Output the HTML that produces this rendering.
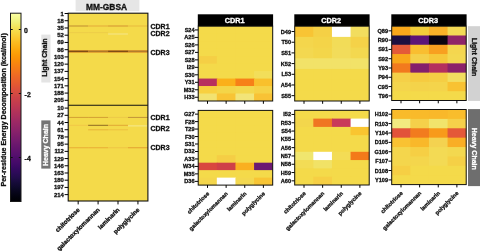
<!DOCTYPE html>
<html><head><meta charset="utf-8"><style>
html,body{margin:0;padding:0;background:#fff;width:480px;height:251px;overflow:hidden}
svg{display:block;font-family:'Liberation Sans', sans-serif;font-weight:bold;filter:blur(0.3px)}
text{stroke:currentColor;stroke-width:0.3px}
</style></head><body>
<svg width="480" height="251" viewBox="0 0 480 251">
<defs><linearGradient id="cb" x1="0" y1="0" x2="0" y2="1"><stop offset="0.000" stop-color="#fcffa4"/><stop offset="0.025" stop-color="#f4f88e"/><stop offset="0.050" stop-color="#f1ef75"/><stop offset="0.075" stop-color="#f3e35a"/><stop offset="0.100" stop-color="#f6d746"/><stop offset="0.125" stop-color="#f9cb35"/><stop offset="0.150" stop-color="#fbbe23"/><stop offset="0.175" stop-color="#fcb216"/><stop offset="0.200" stop-color="#fca50a"/><stop offset="0.225" stop-color="#fb9906"/><stop offset="0.250" stop-color="#f98e09"/><stop offset="0.275" stop-color="#f78212"/><stop offset="0.300" stop-color="#f37819"/><stop offset="0.325" stop-color="#ef6c23"/><stop offset="0.350" stop-color="#ea632a"/><stop offset="0.375" stop-color="#e45a31"/><stop offset="0.400" stop-color="#dd513a"/><stop offset="0.425" stop-color="#d54a41"/><stop offset="0.450" stop-color="#cc4248"/><stop offset="0.475" stop-color="#c43c4e"/><stop offset="0.500" stop-color="#bc3754"/><stop offset="0.525" stop-color="#b1325a"/><stop offset="0.550" stop-color="#a82e5f"/><stop offset="0.575" stop-color="#9d2964"/><stop offset="0.600" stop-color="#932667"/><stop offset="0.625" stop-color="#8a226a"/><stop offset="0.650" stop-color="#7f1e6c"/><stop offset="0.675" stop-color="#751b6e"/><stop offset="0.700" stop-color="#6a176e"/><stop offset="0.725" stop-color="#61136e"/><stop offset="0.750" stop-color="#57106e"/><stop offset="0.775" stop-color="#4c0c6b"/><stop offset="0.800" stop-color="#420a68"/><stop offset="0.825" stop-color="#360961"/><stop offset="0.850" stop-color="#2b0b57"/><stop offset="0.875" stop-color="#210c4a"/><stop offset="0.900" stop-color="#160b39"/><stop offset="0.925" stop-color="#0e092b"/><stop offset="0.950" stop-color="#07051b"/><stop offset="0.975" stop-color="#02020e"/><stop offset="1.000" stop-color="#000004"/></linearGradient></defs>
<rect x="10.5" y="13.2" width="10.5" height="188.3" fill="url(#cb)" stroke="#1a1a1a" stroke-width="1"/>
<line x1="10.5" y1="29.5" x2="12.7" y2="29.5" stroke="#111" stroke-width="1"/>
<line x1="18.8" y1="29.5" x2="21" y2="29.5" stroke="#111" stroke-width="1"/>
<text x="24.0" y="30.0" font-size="6.9" text-anchor="start" fill="#111" color="#111" dominant-baseline="central">0</text>
<line x1="10.5" y1="93.5" x2="12.7" y2="93.5" stroke="#111" stroke-width="1"/>
<line x1="18.8" y1="93.5" x2="21" y2="93.5" stroke="#111" stroke-width="1"/>
<text x="24.6" y="94.0" font-size="6.9" text-anchor="start" fill="#111" color="#111" dominant-baseline="central">-2</text>
<line x1="10.5" y1="157.5" x2="12.7" y2="157.5" stroke="#111" stroke-width="1"/>
<line x1="18.8" y1="157.5" x2="21" y2="157.5" stroke="#111" stroke-width="1"/>
<text x="24.6" y="158.0" font-size="6.9" text-anchor="start" fill="#111" color="#111" dominant-baseline="central">-4</text>
<text x="4.2" y="109.8" font-size="7.1" text-anchor="middle" fill="#111" color="#111" dominant-baseline="central" transform="rotate(-90 4.2 109.8)">Per-residue Energy Decomposition (kcal/mol)</text>
<rect x="41.3" y="34.6" width="9.2" height="47.9" fill="#E4E4E4"/>
<text x="45.0" y="57.6" font-size="7" text-anchor="middle" fill="#111" color="#111" dominant-baseline="central" transform="rotate(-90 45.0 57.6)">Light Chain</text>
<rect x="41.3" y="120.4" width="9.2" height="48.2" fill="#747474"/>
<text x="45.5" y="145.0" font-size="7" text-anchor="middle" fill="#fff" color="#fff" dominant-baseline="central" transform="rotate(-90 45.5 145.0)">Heavy Chain</text>
<rect x="75.6" y="0" width="63.8" height="11.2" fill="#E6E6E6"/>
<text x="106.6" y="6.6" font-size="8.4" text-anchor="middle" fill="#111" color="#111" dominant-baseline="central">MM-GBSA</text>
<rect x="68.2" y="13.2" width="79.7" height="187.8" fill="#F4DA4A"/>
<rect x="68.20" y="25.4" width="19.93" height="1.2" fill="#C99A35"/>
<rect x="88.12" y="25.4" width="19.93" height="1.2" fill="#E6B43C"/>
<rect x="108.05" y="25.4" width="19.93" height="1.2" fill="#D9A035"/>
<rect x="127.98" y="25.4" width="19.93" height="1.2" fill="#EAC040"/>
<rect x="108.05" y="33.5" width="19.93" height="1.0" fill="#F4E68A"/>
<rect x="68.20" y="32.3" width="19.93" height="0.8" fill="#EBCB48"/>
<rect x="88.12" y="32.3" width="19.93" height="0.8" fill="#EBCB48"/>
<rect x="68.20" y="50.0" width="19.93" height="2.9" fill="#E9A632"/>
<rect x="88.12" y="50.0" width="19.93" height="2.9" fill="#E9A632"/>
<rect x="108.05" y="50.0" width="19.93" height="2.9" fill="#E9A632"/>
<rect x="127.98" y="50.0" width="19.93" height="2.9" fill="#E9A632"/>
<rect x="68.20" y="50.6" width="19.93" height="1.5" fill="#7E4C16"/>
<rect x="88.12" y="50.6" width="19.93" height="1.5" fill="#AE7828"/>
<rect x="108.05" y="50.6" width="19.93" height="1.5" fill="#7E4C16"/>
<rect x="127.98" y="50.6" width="19.93" height="1.5" fill="#B27C2C"/>
<rect x="68.20" y="116.9" width="19.93" height="1.1" fill="#D6A535"/>
<rect x="88.12" y="116.9" width="19.93" height="1.1" fill="#D6A535"/>
<rect x="108.05" y="116.9" width="19.93" height="1.1" fill="#EDCB48"/>
<rect x="127.98" y="116.9" width="19.93" height="1.1" fill="#C69A3A"/>
<rect x="68.20" y="124.8" width="19.93" height="1.0" fill="#F2C848"/>
<rect x="88.12" y="124.8" width="19.93" height="1.0" fill="#8F6A22"/>
<rect x="108.05" y="124.8" width="19.93" height="1.0" fill="#E2A835"/>
<rect x="127.98" y="125.4" width="19.93" height="1.0" fill="#F6EA90"/>
<rect x="88.12" y="129.3" width="19.93" height="1.0" fill="#E8B438"/>
<rect x="108.05" y="129.3" width="19.93" height="1.0" fill="#EDC040"/>
<rect x="68.20" y="147.1" width="19.93" height="1.2" fill="#EBB438"/>
<rect x="88.12" y="147.1" width="19.93" height="1.2" fill="#EBB438"/>
<rect x="108.05" y="147.1" width="19.93" height="1.2" fill="#F0C845"/>
<rect x="127.98" y="147.1" width="19.93" height="1.2" fill="#E6AA35"/>
<rect x="68.2" y="13.2" width="79.7" height="187.8" fill="none" stroke="#111" stroke-width="1.1"/>
<line x1="68.2" y1="105.3" x2="147.9" y2="105.3" stroke="#111" stroke-width="1.1"/>
<line x1="64.6" y1="13.50" x2="68.2" y2="13.50" stroke="#000" stroke-width="1"/>
<text x="63.9" y="13.5" font-size="5.9" text-anchor="end" fill="#111" color="#111" dominant-baseline="central">1</text>
<line x1="64.6" y1="20.73" x2="68.2" y2="20.73" stroke="#000" stroke-width="1"/>
<text x="63.9" y="20.735" font-size="5.9" text-anchor="end" fill="#111" color="#111" dominant-baseline="central">18</text>
<line x1="64.6" y1="27.97" x2="68.2" y2="27.97" stroke="#000" stroke-width="1"/>
<text x="63.9" y="27.97" font-size="5.9" text-anchor="end" fill="#111" color="#111" dominant-baseline="central">35</text>
<line x1="64.6" y1="35.20" x2="68.2" y2="35.20" stroke="#000" stroke-width="1"/>
<text x="63.9" y="35.205" font-size="5.9" text-anchor="end" fill="#111" color="#111" dominant-baseline="central">52</text>
<line x1="64.6" y1="42.44" x2="68.2" y2="42.44" stroke="#000" stroke-width="1"/>
<text x="63.9" y="42.44" font-size="5.9" text-anchor="end" fill="#111" color="#111" dominant-baseline="central">69</text>
<line x1="64.6" y1="49.68" x2="68.2" y2="49.68" stroke="#000" stroke-width="1"/>
<text x="63.9" y="49.675000000000004" font-size="5.9" text-anchor="end" fill="#111" color="#111" dominant-baseline="central">86</text>
<line x1="64.6" y1="56.91" x2="68.2" y2="56.91" stroke="#000" stroke-width="1"/>
<text x="63.9" y="56.910000000000004" font-size="5.9" text-anchor="end" fill="#111" color="#111" dominant-baseline="central">103</text>
<line x1="64.6" y1="64.15" x2="68.2" y2="64.15" stroke="#000" stroke-width="1"/>
<text x="63.9" y="64.14500000000001" font-size="5.9" text-anchor="end" fill="#111" color="#111" dominant-baseline="central">120</text>
<line x1="64.6" y1="71.38" x2="68.2" y2="71.38" stroke="#000" stroke-width="1"/>
<text x="63.9" y="71.38" font-size="5.9" text-anchor="end" fill="#111" color="#111" dominant-baseline="central">137</text>
<line x1="64.6" y1="78.62" x2="68.2" y2="78.62" stroke="#000" stroke-width="1"/>
<text x="63.9" y="78.61500000000001" font-size="5.9" text-anchor="end" fill="#111" color="#111" dominant-baseline="central">154</text>
<line x1="64.6" y1="85.85" x2="68.2" y2="85.85" stroke="#000" stroke-width="1"/>
<text x="63.9" y="85.85000000000001" font-size="5.9" text-anchor="end" fill="#111" color="#111" dominant-baseline="central">171</text>
<line x1="64.6" y1="93.09" x2="68.2" y2="93.09" stroke="#000" stroke-width="1"/>
<text x="63.9" y="93.08500000000001" font-size="5.9" text-anchor="end" fill="#111" color="#111" dominant-baseline="central">188</text>
<line x1="64.6" y1="100.32" x2="68.2" y2="100.32" stroke="#000" stroke-width="1"/>
<text x="63.9" y="100.32000000000001" font-size="5.9" text-anchor="end" fill="#111" color="#111" dominant-baseline="central">205</text>
<line x1="64.6" y1="108.10" x2="68.2" y2="108.10" stroke="#000" stroke-width="1"/>
<text x="63.9" y="108.1" font-size="5.9" text-anchor="end" fill="#111" color="#111" dominant-baseline="central">10</text>
<line x1="64.6" y1="115.31" x2="68.2" y2="115.31" stroke="#000" stroke-width="1"/>
<text x="63.9" y="115.30999999999999" font-size="5.9" text-anchor="end" fill="#111" color="#111" dominant-baseline="central">27</text>
<line x1="64.6" y1="122.52" x2="68.2" y2="122.52" stroke="#000" stroke-width="1"/>
<text x="63.9" y="122.52" font-size="5.9" text-anchor="end" fill="#111" color="#111" dominant-baseline="central">44</text>
<line x1="64.6" y1="129.73" x2="68.2" y2="129.73" stroke="#000" stroke-width="1"/>
<text x="63.9" y="129.73" font-size="5.9" text-anchor="end" fill="#111" color="#111" dominant-baseline="central">61</text>
<line x1="64.6" y1="136.94" x2="68.2" y2="136.94" stroke="#000" stroke-width="1"/>
<text x="63.9" y="136.94" font-size="5.9" text-anchor="end" fill="#111" color="#111" dominant-baseline="central">78</text>
<line x1="64.6" y1="144.15" x2="68.2" y2="144.15" stroke="#000" stroke-width="1"/>
<text x="63.9" y="144.14999999999998" font-size="5.9" text-anchor="end" fill="#111" color="#111" dominant-baseline="central">95</text>
<line x1="64.6" y1="151.36" x2="68.2" y2="151.36" stroke="#000" stroke-width="1"/>
<text x="63.9" y="151.35999999999999" font-size="5.9" text-anchor="end" fill="#111" color="#111" dominant-baseline="central">112</text>
<line x1="64.6" y1="158.57" x2="68.2" y2="158.57" stroke="#000" stroke-width="1"/>
<text x="63.9" y="158.57" font-size="5.9" text-anchor="end" fill="#111" color="#111" dominant-baseline="central">129</text>
<line x1="64.6" y1="165.78" x2="68.2" y2="165.78" stroke="#000" stroke-width="1"/>
<text x="63.9" y="165.78" font-size="5.9" text-anchor="end" fill="#111" color="#111" dominant-baseline="central">146</text>
<line x1="64.6" y1="172.99" x2="68.2" y2="172.99" stroke="#000" stroke-width="1"/>
<text x="63.9" y="172.99" font-size="5.9" text-anchor="end" fill="#111" color="#111" dominant-baseline="central">163</text>
<line x1="64.6" y1="180.20" x2="68.2" y2="180.20" stroke="#000" stroke-width="1"/>
<text x="63.9" y="180.2" font-size="5.9" text-anchor="end" fill="#111" color="#111" dominant-baseline="central">180</text>
<line x1="64.6" y1="187.41" x2="68.2" y2="187.41" stroke="#000" stroke-width="1"/>
<text x="63.9" y="187.41" font-size="5.9" text-anchor="end" fill="#111" color="#111" dominant-baseline="central">197</text>
<line x1="64.6" y1="194.62" x2="68.2" y2="194.62" stroke="#000" stroke-width="1"/>
<text x="63.9" y="194.62" font-size="5.9" text-anchor="end" fill="#111" color="#111" dominant-baseline="central">214</text>
<text x="150.5" y="26.2" font-size="7" text-anchor="start" fill="#111" color="#111" dominant-baseline="central">CDR1</text>
<text x="150.5" y="33.9" font-size="7" text-anchor="start" fill="#111" color="#111" dominant-baseline="central">CDR2</text>
<text x="150.5" y="52.0" font-size="7" text-anchor="start" fill="#111" color="#111" dominant-baseline="central">CDR3</text>
<text x="150.5" y="117.8" font-size="7" text-anchor="start" fill="#111" color="#111" dominant-baseline="central">CDR1</text>
<text x="150.5" y="128.1" font-size="7" text-anchor="start" fill="#111" color="#111" dominant-baseline="central">CDR2</text>
<text x="150.5" y="147.5" font-size="7" text-anchor="start" fill="#111" color="#111" dominant-baseline="central">CDR3</text>
<line x1="78.16250000000001" y1="201.0" x2="78.16250000000001" y2="204.4" stroke="#000" stroke-width="1"/>
<text x="80.16250000000001" y="210.2" font-size="6.2" text-anchor="end" fill="#111" color="#111" transform="rotate(-45 80.16250000000001 210.2)">chitotriose</text>
<line x1="98.0875" y1="201.0" x2="98.0875" y2="204.4" stroke="#000" stroke-width="1"/>
<text x="100.0875" y="210.2" font-size="6.2" text-anchor="end" fill="#111" color="#111" transform="rotate(-45 100.0875 210.2)">galactoxylomannan</text>
<line x1="118.0125" y1="201.0" x2="118.0125" y2="204.4" stroke="#000" stroke-width="1"/>
<text x="120.0125" y="210.2" font-size="6.2" text-anchor="end" fill="#111" color="#111" transform="rotate(-45 120.0125 210.2)">laminarin</text>
<line x1="137.9375" y1="201.0" x2="137.9375" y2="204.4" stroke="#000" stroke-width="1"/>
<text x="139.9375" y="210.2" font-size="6.2" text-anchor="end" fill="#111" color="#111" transform="rotate(-45 139.9375 210.2)">polyglycine</text>
<rect x="197.79999999999998" y="14.3" width="75.3" height="11.899999999999999" fill="#000"/>
<text x="234.64999999999998" y="20.8" font-size="7.3" text-anchor="middle" fill="#fff" color="#fff" dominant-baseline="central">CDR1</text>
<rect x="198.2" y="26.2" width="74.5" height="74.8" fill="#F4DA4A"/>
<rect x="198.20" y="26.20" width="19.23" height="8.08" fill="#F4DA4A"/>
<rect x="216.82" y="26.20" width="19.23" height="8.08" fill="#F4DA4A"/>
<rect x="235.45" y="26.20" width="19.23" height="8.08" fill="#F4DA4A"/>
<rect x="254.07" y="26.20" width="18.62" height="8.08" fill="#F4DA4A"/>
<line x1="195.0" y1="29.94" x2="198.2" y2="29.94" stroke="#000" stroke-width="1"/>
<text x="194.6" y="29.939999999999998" font-size="5.6" text-anchor="end" fill="#111" color="#111" dominant-baseline="central">S24</text>
<rect x="198.20" y="33.68" width="19.23" height="8.08" fill="#F4DA4A"/>
<rect x="216.82" y="33.68" width="19.23" height="8.08" fill="#F4DA4A"/>
<rect x="235.45" y="33.68" width="19.23" height="8.08" fill="#F4DA4A"/>
<rect x="254.07" y="33.68" width="18.62" height="8.08" fill="#F4DA4A"/>
<line x1="195.0" y1="37.42" x2="198.2" y2="37.42" stroke="#000" stroke-width="1"/>
<text x="194.6" y="37.42" font-size="5.6" text-anchor="end" fill="#111" color="#111" dominant-baseline="central">A25</text>
<rect x="198.20" y="41.16" width="19.23" height="8.08" fill="#F4DA4A"/>
<rect x="216.82" y="41.16" width="19.23" height="8.08" fill="#F4DA4A"/>
<rect x="235.45" y="41.16" width="19.23" height="8.08" fill="#F4DA4A"/>
<rect x="254.07" y="41.16" width="18.62" height="8.08" fill="#F4DA4A"/>
<line x1="195.0" y1="44.90" x2="198.2" y2="44.90" stroke="#000" stroke-width="1"/>
<text x="194.6" y="44.9" font-size="5.6" text-anchor="end" fill="#111" color="#111" dominant-baseline="central">S26</text>
<rect x="198.20" y="48.64" width="19.23" height="8.08" fill="#F4DA4A"/>
<rect x="216.82" y="48.64" width="19.23" height="8.08" fill="#F4DA4A"/>
<rect x="235.45" y="48.64" width="19.23" height="8.08" fill="#F4DA4A"/>
<rect x="254.07" y="48.64" width="18.62" height="8.08" fill="#F4DA4A"/>
<line x1="195.0" y1="52.38" x2="198.2" y2="52.38" stroke="#000" stroke-width="1"/>
<text x="194.6" y="52.379999999999995" font-size="5.6" text-anchor="end" fill="#111" color="#111" dominant-baseline="central">S27</text>
<rect x="198.20" y="56.12" width="19.23" height="8.08" fill="#F5CF45"/>
<rect x="216.82" y="56.12" width="19.23" height="8.08" fill="#F4DA4A"/>
<rect x="235.45" y="56.12" width="19.23" height="8.08" fill="#F4DA4A"/>
<rect x="254.07" y="56.12" width="18.62" height="8.08" fill="#F4DA4A"/>
<line x1="195.0" y1="59.86" x2="198.2" y2="59.86" stroke="#000" stroke-width="1"/>
<text x="194.6" y="59.86" font-size="5.6" text-anchor="end" fill="#111" color="#111" dominant-baseline="central">S28</text>
<rect x="198.20" y="63.60" width="19.23" height="8.08" fill="#F4DA4A"/>
<rect x="216.82" y="63.60" width="19.23" height="8.08" fill="#F4DA4A"/>
<rect x="235.45" y="63.60" width="19.23" height="8.08" fill="#F4DA4A"/>
<rect x="254.07" y="63.60" width="18.62" height="8.08" fill="#F4DA4A"/>
<line x1="195.0" y1="67.34" x2="198.2" y2="67.34" stroke="#000" stroke-width="1"/>
<text x="194.6" y="67.34" font-size="5.6" text-anchor="end" fill="#111" color="#111" dominant-baseline="central">I29</text>
<rect x="198.20" y="71.08" width="19.23" height="8.08" fill="#F4DA4A"/>
<rect x="216.82" y="71.08" width="19.23" height="8.08" fill="#F4DA4A"/>
<rect x="235.45" y="71.08" width="19.23" height="8.08" fill="#F4DA4A"/>
<rect x="254.07" y="71.08" width="18.62" height="8.08" fill="#F2DE5A"/>
<line x1="195.0" y1="74.82" x2="198.2" y2="74.82" stroke="#000" stroke-width="1"/>
<text x="194.6" y="74.82" font-size="5.6" text-anchor="end" fill="#111" color="#111" dominant-baseline="central">S30</text>
<rect x="198.20" y="78.56" width="19.23" height="8.08" fill="#B8305E"/>
<rect x="216.82" y="78.56" width="19.23" height="8.08" fill="#FBB01A"/>
<rect x="235.45" y="78.56" width="19.23" height="8.08" fill="#F78018"/>
<rect x="254.07" y="78.56" width="18.62" height="8.08" fill="#F9C02C"/>
<line x1="195.0" y1="82.30" x2="198.2" y2="82.30" stroke="#000" stroke-width="1"/>
<text x="194.6" y="82.3" font-size="5.6" text-anchor="end" fill="#111" color="#111" dominant-baseline="central">Y31</text>
<rect x="198.20" y="86.04" width="19.23" height="8.08" fill="#F8D040"/>
<rect x="216.82" y="86.04" width="19.23" height="8.08" fill="#F4D548"/>
<rect x="235.45" y="86.04" width="19.23" height="8.08" fill="#F3D84E"/>
<rect x="254.07" y="86.04" width="18.62" height="8.08" fill="#F6D246"/>
<line x1="195.0" y1="89.78" x2="198.2" y2="89.78" stroke="#000" stroke-width="1"/>
<text x="194.6" y="89.78" font-size="5.6" text-anchor="end" fill="#111" color="#111" dominant-baseline="central">M32</text>
<rect x="198.20" y="93.52" width="19.23" height="7.48" fill="#F2E270"/>
<rect x="216.82" y="93.52" width="19.23" height="7.48" fill="#F8C435"/>
<rect x="235.45" y="93.52" width="19.23" height="7.48" fill="#F2E478"/>
<rect x="254.07" y="93.52" width="18.62" height="7.48" fill="#F8C235"/>
<line x1="195.0" y1="97.26" x2="198.2" y2="97.26" stroke="#000" stroke-width="1"/>
<text x="194.6" y="97.26" font-size="5.6" text-anchor="end" fill="#111" color="#111" dominant-baseline="central">H33</text>
<rect x="198.2" y="26.2" width="74.5" height="74.8" fill="none" stroke="#111" stroke-width="1"/>
<line x1="207.51" y1="101.0" x2="207.51" y2="103.8" stroke="#000" stroke-width="1"/>
<line x1="226.14" y1="101.0" x2="226.14" y2="103.8" stroke="#000" stroke-width="1"/>
<line x1="244.76" y1="101.0" x2="244.76" y2="103.8" stroke="#000" stroke-width="1"/>
<line x1="263.39" y1="101.0" x2="263.39" y2="103.8" stroke="#000" stroke-width="1"/>
<rect x="198.2" y="110.4" width="74.5" height="74.69999999999999" fill="#F4DA4A"/>
<rect x="198.20" y="110.40" width="19.23" height="8.07" fill="#F4DA4A"/>
<rect x="216.82" y="110.40" width="19.23" height="8.07" fill="#F4DA4A"/>
<rect x="235.45" y="110.40" width="19.23" height="8.07" fill="#F4DA4A"/>
<rect x="254.07" y="110.40" width="18.62" height="8.07" fill="#F4DA4A"/>
<line x1="195.0" y1="114.14" x2="198.2" y2="114.14" stroke="#000" stroke-width="1"/>
<text x="194.6" y="114.135" font-size="5.6" text-anchor="end" fill="#111" color="#111" dominant-baseline="central">G27</text>
<rect x="198.20" y="117.87" width="19.23" height="8.07" fill="#F4DA4A"/>
<rect x="216.82" y="117.87" width="19.23" height="8.07" fill="#F4DA4A"/>
<rect x="235.45" y="117.87" width="19.23" height="8.07" fill="#F4DA4A"/>
<rect x="254.07" y="117.87" width="18.62" height="8.07" fill="#F4DA4A"/>
<line x1="195.0" y1="121.61" x2="198.2" y2="121.61" stroke="#000" stroke-width="1"/>
<text x="194.6" y="121.605" font-size="5.6" text-anchor="end" fill="#111" color="#111" dominant-baseline="central">F28</text>
<rect x="198.20" y="125.34" width="19.23" height="8.07" fill="#F4DA4A"/>
<rect x="216.82" y="125.34" width="19.23" height="8.07" fill="#F4DA4A"/>
<rect x="235.45" y="125.34" width="19.23" height="8.07" fill="#F4DA4A"/>
<rect x="254.07" y="125.34" width="18.62" height="8.07" fill="#F4DA4A"/>
<line x1="195.0" y1="129.07" x2="198.2" y2="129.07" stroke="#000" stroke-width="1"/>
<text x="194.6" y="129.075" font-size="5.6" text-anchor="end" fill="#111" color="#111" dominant-baseline="central">T29</text>
<rect x="198.20" y="132.81" width="19.23" height="8.07" fill="#F4DA4A"/>
<rect x="216.82" y="132.81" width="19.23" height="8.07" fill="#F4DA4A"/>
<rect x="235.45" y="132.81" width="19.23" height="8.07" fill="#F4DA4A"/>
<rect x="254.07" y="132.81" width="18.62" height="8.07" fill="#F4DA4A"/>
<line x1="195.0" y1="136.55" x2="198.2" y2="136.55" stroke="#000" stroke-width="1"/>
<text x="194.6" y="136.54500000000002" font-size="5.6" text-anchor="end" fill="#111" color="#111" dominant-baseline="central">F30</text>
<rect x="198.20" y="140.28" width="19.23" height="8.07" fill="#F4DA4A"/>
<rect x="216.82" y="140.28" width="19.23" height="8.07" fill="#F4DA4A"/>
<rect x="235.45" y="140.28" width="19.23" height="8.07" fill="#F4DA4A"/>
<rect x="254.07" y="140.28" width="18.62" height="8.07" fill="#F4DA4A"/>
<line x1="195.0" y1="144.01" x2="198.2" y2="144.01" stroke="#000" stroke-width="1"/>
<text x="194.6" y="144.015" font-size="5.6" text-anchor="end" fill="#111" color="#111" dominant-baseline="central">S31</text>
<rect x="198.20" y="147.75" width="19.23" height="8.07" fill="#F4DA4A"/>
<rect x="216.82" y="147.75" width="19.23" height="8.07" fill="#F4DA4A"/>
<rect x="235.45" y="147.75" width="19.23" height="8.07" fill="#F4DA4A"/>
<rect x="254.07" y="147.75" width="18.62" height="8.07" fill="#F4DA4A"/>
<line x1="195.0" y1="151.49" x2="198.2" y2="151.49" stroke="#000" stroke-width="1"/>
<text x="194.6" y="151.485" font-size="5.6" text-anchor="end" fill="#111" color="#111" dominant-baseline="central">D32</text>
<rect x="198.20" y="155.22" width="19.23" height="8.07" fill="#F4DA4A"/>
<rect x="216.82" y="155.22" width="19.23" height="8.07" fill="#F5CE45"/>
<rect x="235.45" y="155.22" width="19.23" height="8.07" fill="#F4DA4A"/>
<rect x="254.07" y="155.22" width="18.62" height="8.07" fill="#F4DA4A"/>
<line x1="195.0" y1="158.95" x2="198.2" y2="158.95" stroke="#000" stroke-width="1"/>
<text x="194.6" y="158.95499999999998" font-size="5.6" text-anchor="end" fill="#111" color="#111" dominant-baseline="central">A33</text>
<rect x="198.20" y="162.69" width="19.23" height="8.07" fill="#D9473F"/>
<rect x="216.82" y="162.69" width="19.23" height="8.07" fill="#CF4048"/>
<rect x="235.45" y="162.69" width="19.23" height="8.07" fill="#FAB020"/>
<rect x="254.07" y="162.69" width="18.62" height="8.07" fill="#6B1A72"/>
<line x1="195.0" y1="166.43" x2="198.2" y2="166.43" stroke="#000" stroke-width="1"/>
<text x="194.6" y="166.425" font-size="5.6" text-anchor="end" fill="#111" color="#111" dominant-baseline="central">W34</text>
<rect x="198.20" y="170.16" width="19.23" height="8.07" fill="#F4DA4A"/>
<rect x="216.82" y="170.16" width="19.23" height="8.07" fill="#F4DA4A"/>
<rect x="235.45" y="170.16" width="19.23" height="8.07" fill="#F4DA4A"/>
<rect x="254.07" y="170.16" width="18.62" height="8.07" fill="#F4DA4A"/>
<line x1="195.0" y1="173.89" x2="198.2" y2="173.89" stroke="#000" stroke-width="1"/>
<text x="194.6" y="173.89499999999998" font-size="5.6" text-anchor="end" fill="#111" color="#111" dominant-baseline="central">M35</text>
<rect x="198.20" y="177.63" width="19.23" height="7.47" fill="#F4D64C"/>
<rect x="216.82" y="177.63" width="19.23" height="7.47" fill="#FFFFFF"/>
<rect x="235.45" y="177.63" width="19.23" height="7.47" fill="#F3D84F"/>
<rect x="254.07" y="177.63" width="18.62" height="7.47" fill="#F8C535"/>
<line x1="195.0" y1="181.37" x2="198.2" y2="181.37" stroke="#000" stroke-width="1"/>
<text x="194.6" y="181.365" font-size="5.6" text-anchor="end" fill="#111" color="#111" dominant-baseline="central">D36</text>
<rect x="198.2" y="110.4" width="74.5" height="74.69999999999999" fill="none" stroke="#111" stroke-width="1"/>
<line x1="207.51" y1="185.1" x2="207.51" y2="187.9" stroke="#000" stroke-width="1"/>
<line x1="226.14" y1="185.1" x2="226.14" y2="187.9" stroke="#000" stroke-width="1"/>
<line x1="244.76" y1="185.1" x2="244.76" y2="187.9" stroke="#000" stroke-width="1"/>
<line x1="263.39" y1="185.1" x2="263.39" y2="187.9" stroke="#000" stroke-width="1"/>
<text x="209.61" y="194.0" font-size="5.6" text-anchor="end" fill="#111" color="#111" transform="rotate(-45 209.61 194.0)">chitotriose</text>
<text x="228.24" y="194.0" font-size="5.6" text-anchor="end" fill="#111" color="#111" transform="rotate(-45 228.24 194.0)">galactoxylomannan</text>
<text x="246.86" y="194.0" font-size="5.6" text-anchor="end" fill="#111" color="#111" transform="rotate(-45 246.86 194.0)">laminarin</text>
<text x="265.49" y="194.0" font-size="5.6" text-anchor="end" fill="#111" color="#111" transform="rotate(-45 265.49 194.0)">polyglycine</text>
<rect x="294.3" y="14.3" width="75.3" height="11.899999999999999" fill="#000"/>
<text x="331.15" y="20.8" font-size="7.3" text-anchor="middle" fill="#fff" color="#fff" dominant-baseline="central">CDR2</text>
<rect x="294.7" y="26.2" width="74.5" height="74.8" fill="#F4DA4A"/>
<rect x="294.70" y="26.20" width="19.23" height="11.29" fill="#F8C434"/>
<rect x="313.32" y="26.20" width="19.23" height="11.29" fill="#F5D045"/>
<rect x="331.95" y="26.20" width="19.23" height="11.29" fill="#FFFFFF"/>
<rect x="350.57" y="26.20" width="18.62" height="11.29" fill="#F2DD5E"/>
<line x1="291.5" y1="31.54" x2="294.7" y2="31.54" stroke="#000" stroke-width="1"/>
<text x="291.09999999999997" y="31.54285714285714" font-size="5.6" text-anchor="end" fill="#111" color="#111" dominant-baseline="central">D49</text>
<rect x="294.70" y="36.89" width="19.23" height="11.29" fill="#F4D64C"/>
<rect x="313.32" y="36.89" width="19.23" height="11.29" fill="#F4D448"/>
<rect x="331.95" y="36.89" width="19.23" height="11.29" fill="#F2DC58"/>
<rect x="350.57" y="36.89" width="18.62" height="11.29" fill="#F5D248"/>
<line x1="291.5" y1="42.23" x2="294.7" y2="42.23" stroke="#000" stroke-width="1"/>
<text x="291.09999999999997" y="42.22857142857143" font-size="5.6" text-anchor="end" fill="#111" color="#111" dominant-baseline="central">T50</text>
<rect x="294.70" y="47.57" width="19.23" height="11.29" fill="#F3D850"/>
<rect x="313.32" y="47.57" width="19.23" height="11.29" fill="#F3D64A"/>
<rect x="331.95" y="47.57" width="19.23" height="11.29" fill="#F2DC5A"/>
<rect x="350.57" y="47.57" width="18.62" height="11.29" fill="#F3D84F"/>
<line x1="291.5" y1="52.91" x2="294.7" y2="52.91" stroke="#000" stroke-width="1"/>
<text x="291.09999999999997" y="52.91428571428571" font-size="5.6" text-anchor="end" fill="#111" color="#111" dominant-baseline="central">S51</text>
<rect x="294.70" y="58.26" width="19.23" height="11.29" fill="#F2E268"/>
<rect x="313.32" y="58.26" width="19.23" height="11.29" fill="#F2E268"/>
<rect x="331.95" y="58.26" width="19.23" height="11.29" fill="#F2E268"/>
<rect x="350.57" y="58.26" width="18.62" height="11.29" fill="#F2E268"/>
<line x1="291.5" y1="63.60" x2="294.7" y2="63.60" stroke="#000" stroke-width="1"/>
<text x="291.09999999999997" y="63.599999999999994" font-size="5.6" text-anchor="end" fill="#111" color="#111" dominant-baseline="central">K52</text>
<rect x="294.70" y="68.94" width="19.23" height="11.29" fill="#F4DA4A"/>
<rect x="313.32" y="68.94" width="19.23" height="11.29" fill="#F4DA4A"/>
<rect x="331.95" y="68.94" width="19.23" height="11.29" fill="#F4DA4A"/>
<rect x="350.57" y="68.94" width="18.62" height="11.29" fill="#F4DA4A"/>
<line x1="291.5" y1="74.29" x2="294.7" y2="74.29" stroke="#000" stroke-width="1"/>
<text x="291.09999999999997" y="74.28571428571428" font-size="5.6" text-anchor="end" fill="#111" color="#111" dominant-baseline="central">L53</text>
<rect x="294.70" y="79.63" width="19.23" height="11.29" fill="#F4DA4A"/>
<rect x="313.32" y="79.63" width="19.23" height="11.29" fill="#F4DA4A"/>
<rect x="331.95" y="79.63" width="19.23" height="11.29" fill="#F4DA4A"/>
<rect x="350.57" y="79.63" width="18.62" height="11.29" fill="#F4DA4A"/>
<line x1="291.5" y1="84.97" x2="294.7" y2="84.97" stroke="#000" stroke-width="1"/>
<text x="291.09999999999997" y="84.97142857142856" font-size="5.6" text-anchor="end" fill="#111" color="#111" dominant-baseline="central">A54</text>
<rect x="294.70" y="90.31" width="19.23" height="10.69" fill="#F4DA4A"/>
<rect x="313.32" y="90.31" width="19.23" height="10.69" fill="#F4DA4A"/>
<rect x="331.95" y="90.31" width="19.23" height="10.69" fill="#F4DA4A"/>
<rect x="350.57" y="90.31" width="18.62" height="10.69" fill="#F4DA4A"/>
<line x1="291.5" y1="95.66" x2="294.7" y2="95.66" stroke="#000" stroke-width="1"/>
<text x="291.09999999999997" y="95.65714285714286" font-size="5.6" text-anchor="end" fill="#111" color="#111" dominant-baseline="central">S55</text>
<rect x="294.7" y="26.2" width="74.5" height="74.8" fill="none" stroke="#111" stroke-width="1"/>
<line x1="304.01" y1="101.0" x2="304.01" y2="103.8" stroke="#000" stroke-width="1"/>
<line x1="322.64" y1="101.0" x2="322.64" y2="103.8" stroke="#000" stroke-width="1"/>
<line x1="341.26" y1="101.0" x2="341.26" y2="103.8" stroke="#000" stroke-width="1"/>
<line x1="359.89" y1="101.0" x2="359.89" y2="103.8" stroke="#000" stroke-width="1"/>
<rect x="294.7" y="110.3" width="74.5" height="74.7" fill="#F4DA4A"/>
<rect x="294.70" y="110.30" width="19.23" height="8.90" fill="#F4DA4A"/>
<rect x="313.32" y="110.30" width="19.23" height="8.90" fill="#F4DA4A"/>
<rect x="331.95" y="110.30" width="19.23" height="8.90" fill="#F4DA4A"/>
<rect x="350.57" y="110.30" width="18.62" height="8.90" fill="#F4DA4A"/>
<line x1="291.5" y1="114.45" x2="294.7" y2="114.45" stroke="#000" stroke-width="1"/>
<text x="291.09999999999997" y="114.45" font-size="5.6" text-anchor="end" fill="#111" color="#111" dominant-baseline="central">I52</text>
<rect x="294.70" y="118.60" width="19.23" height="8.90" fill="#F3D64C"/>
<rect x="313.32" y="118.60" width="19.23" height="8.90" fill="#F07522"/>
<rect x="331.95" y="118.60" width="19.23" height="8.90" fill="#C93A5A"/>
<rect x="350.57" y="118.60" width="18.62" height="8.90" fill="#FFFFFF"/>
<line x1="291.5" y1="122.75" x2="294.7" y2="122.75" stroke="#000" stroke-width="1"/>
<text x="291.09999999999997" y="122.75" font-size="5.6" text-anchor="end" fill="#111" color="#111" dominant-baseline="central">R53</text>
<rect x="294.70" y="126.90" width="19.23" height="8.90" fill="#F4DA4A"/>
<rect x="313.32" y="126.90" width="19.23" height="8.90" fill="#F4DA4A"/>
<rect x="331.95" y="126.90" width="19.23" height="8.90" fill="#F4DA4A"/>
<rect x="350.57" y="126.90" width="18.62" height="8.90" fill="#F9C530"/>
<line x1="291.5" y1="131.05" x2="294.7" y2="131.05" stroke="#000" stroke-width="1"/>
<text x="291.09999999999997" y="131.05" font-size="5.6" text-anchor="end" fill="#111" color="#111" dominant-baseline="central">S54</text>
<rect x="294.70" y="135.20" width="19.23" height="8.90" fill="#F4DA4A"/>
<rect x="313.32" y="135.20" width="19.23" height="8.90" fill="#F4DA4A"/>
<rect x="331.95" y="135.20" width="19.23" height="8.90" fill="#F4DA4A"/>
<rect x="350.57" y="135.20" width="18.62" height="8.90" fill="#F4DA4A"/>
<line x1="291.5" y1="139.35" x2="294.7" y2="139.35" stroke="#000" stroke-width="1"/>
<text x="291.09999999999997" y="139.35" font-size="5.6" text-anchor="end" fill="#111" color="#111" dominant-baseline="central">K55</text>
<rect x="294.70" y="143.50" width="19.23" height="8.90" fill="#F4DA4A"/>
<rect x="313.32" y="143.50" width="19.23" height="8.90" fill="#F4DA4A"/>
<rect x="331.95" y="143.50" width="19.23" height="8.90" fill="#F4DA4A"/>
<rect x="350.57" y="143.50" width="18.62" height="8.90" fill="#F4DA4A"/>
<line x1="291.5" y1="147.65" x2="294.7" y2="147.65" stroke="#000" stroke-width="1"/>
<text x="291.09999999999997" y="147.65" font-size="5.6" text-anchor="end" fill="#111" color="#111" dominant-baseline="central">A56</text>
<rect x="294.70" y="151.80" width="19.23" height="8.90" fill="#F0E66E"/>
<rect x="313.32" y="151.80" width="19.23" height="8.90" fill="#FFFFFF"/>
<rect x="331.95" y="151.80" width="19.23" height="8.90" fill="#F3DC55"/>
<rect x="350.57" y="151.80" width="18.62" height="8.90" fill="#F37A1A"/>
<line x1="291.5" y1="155.95" x2="294.7" y2="155.95" stroke="#000" stroke-width="1"/>
<text x="291.09999999999997" y="155.95" font-size="5.6" text-anchor="end" fill="#111" color="#111" dominant-baseline="central">N57</text>
<rect x="294.70" y="160.10" width="19.23" height="8.90" fill="#F3DC55"/>
<rect x="313.32" y="160.10" width="19.23" height="8.90" fill="#F1E266"/>
<rect x="331.95" y="160.10" width="19.23" height="8.90" fill="#F4DA4A"/>
<rect x="350.57" y="160.10" width="18.62" height="8.90" fill="#F4DA4A"/>
<line x1="291.5" y1="164.25" x2="294.7" y2="164.25" stroke="#000" stroke-width="1"/>
<text x="291.09999999999997" y="164.25" font-size="5.6" text-anchor="end" fill="#111" color="#111" dominant-baseline="central">N58</text>
<rect x="294.70" y="168.40" width="19.23" height="8.90" fill="#F4DA4A"/>
<rect x="313.32" y="168.40" width="19.23" height="8.90" fill="#F4DA4A"/>
<rect x="331.95" y="168.40" width="19.23" height="8.90" fill="#F4DA4A"/>
<rect x="350.57" y="168.40" width="18.62" height="8.90" fill="#F4DA4A"/>
<line x1="291.5" y1="172.55" x2="294.7" y2="172.55" stroke="#000" stroke-width="1"/>
<text x="291.09999999999997" y="172.55" font-size="5.6" text-anchor="end" fill="#111" color="#111" dominant-baseline="central">H59</text>
<rect x="294.70" y="176.70" width="19.23" height="8.30" fill="#F4DA4A"/>
<rect x="313.32" y="176.70" width="19.23" height="8.30" fill="#F6CF44"/>
<rect x="331.95" y="176.70" width="19.23" height="8.30" fill="#F4DA4A"/>
<rect x="350.57" y="176.70" width="18.62" height="8.30" fill="#F4DA4A"/>
<line x1="291.5" y1="180.85" x2="294.7" y2="180.85" stroke="#000" stroke-width="1"/>
<text x="291.09999999999997" y="180.85000000000002" font-size="5.6" text-anchor="end" fill="#111" color="#111" dominant-baseline="central">A60</text>
<rect x="294.7" y="110.3" width="74.5" height="74.7" fill="none" stroke="#111" stroke-width="1"/>
<line x1="304.01" y1="185.0" x2="304.01" y2="187.8" stroke="#000" stroke-width="1"/>
<line x1="322.64" y1="185.0" x2="322.64" y2="187.8" stroke="#000" stroke-width="1"/>
<line x1="341.26" y1="185.0" x2="341.26" y2="187.8" stroke="#000" stroke-width="1"/>
<line x1="359.89" y1="185.0" x2="359.89" y2="187.8" stroke="#000" stroke-width="1"/>
<text x="306.11" y="193.9" font-size="5.6" text-anchor="end" fill="#111" color="#111" transform="rotate(-45 306.11 193.9)">chitotriose</text>
<text x="324.74" y="193.9" font-size="5.6" text-anchor="end" fill="#111" color="#111" transform="rotate(-45 324.74 193.9)">galactoxylomannan</text>
<text x="343.36" y="193.9" font-size="5.6" text-anchor="end" fill="#111" color="#111" transform="rotate(-45 343.36 193.9)">laminarin</text>
<text x="361.99" y="193.9" font-size="5.6" text-anchor="end" fill="#111" color="#111" transform="rotate(-45 361.99 193.9)">polyglycine</text>
<rect x="391.3" y="14.3" width="75.3" height="11.899999999999999" fill="#000"/>
<text x="428.15" y="20.8" font-size="7.3" text-anchor="middle" fill="#fff" color="#fff" dominant-baseline="central">CDR3</text>
<rect x="391.7" y="26.2" width="74.5" height="74.3" fill="#F4DA4A"/>
<rect x="391.70" y="26.20" width="19.23" height="9.89" fill="#F9A81A"/>
<rect x="410.32" y="26.20" width="19.23" height="9.89" fill="#F2CE3A"/>
<rect x="428.95" y="26.20" width="19.23" height="9.89" fill="#F9B228"/>
<rect x="447.57" y="26.20" width="18.62" height="9.89" fill="#F3DA55"/>
<line x1="388.5" y1="30.84" x2="391.7" y2="30.84" stroke="#000" stroke-width="1"/>
<text x="388.09999999999997" y="30.84375" font-size="5.6" text-anchor="end" fill="#111" color="#111" dominant-baseline="central">Q89</text>
<rect x="391.70" y="35.49" width="19.23" height="9.89" fill="#1C0F40"/>
<rect x="410.32" y="35.49" width="19.23" height="9.89" fill="#5C1478"/>
<rect x="428.95" y="35.49" width="19.23" height="9.89" fill="#0A0410"/>
<rect x="447.57" y="35.49" width="18.62" height="9.89" fill="#8E2468"/>
<line x1="388.5" y1="40.13" x2="391.7" y2="40.13" stroke="#000" stroke-width="1"/>
<text x="388.09999999999997" y="40.131249999999994" font-size="5.6" text-anchor="end" fill="#111" color="#111" dominant-baseline="central">R90</text>
<rect x="391.70" y="44.77" width="19.23" height="9.89" fill="#E45A38"/>
<rect x="410.32" y="44.77" width="19.23" height="9.89" fill="#F9BE30"/>
<rect x="428.95" y="44.77" width="19.23" height="9.89" fill="#F8A020"/>
<rect x="447.57" y="44.77" width="18.62" height="9.89" fill="#F4D64F"/>
<line x1="388.5" y1="49.42" x2="391.7" y2="49.42" stroke="#000" stroke-width="1"/>
<text x="388.09999999999997" y="49.41875" font-size="5.6" text-anchor="end" fill="#111" color="#111" dominant-baseline="central">S91</text>
<rect x="391.70" y="54.06" width="19.23" height="9.89" fill="#F9A71A"/>
<rect x="410.32" y="54.06" width="19.23" height="9.89" fill="#F4D04A"/>
<rect x="428.95" y="54.06" width="19.23" height="9.89" fill="#F6C83A"/>
<rect x="447.57" y="54.06" width="18.62" height="9.89" fill="#F3D851"/>
<line x1="388.5" y1="58.71" x2="391.7" y2="58.71" stroke="#000" stroke-width="1"/>
<text x="388.09999999999997" y="58.70625" font-size="5.6" text-anchor="end" fill="#111" color="#111" dominant-baseline="central">S92</text>
<rect x="391.70" y="63.35" width="19.23" height="9.89" fill="#F27A1E"/>
<rect x="410.32" y="63.35" width="19.23" height="9.89" fill="#841F6C"/>
<rect x="428.95" y="63.35" width="19.23" height="9.89" fill="#B4305E"/>
<rect x="447.57" y="63.35" width="18.62" height="9.89" fill="#8A226A"/>
<line x1="388.5" y1="67.99" x2="391.7" y2="67.99" stroke="#000" stroke-width="1"/>
<text x="388.09999999999997" y="67.99374999999999" font-size="5.6" text-anchor="end" fill="#111" color="#111" dominant-baseline="central">Y93</text>
<rect x="391.70" y="72.64" width="19.23" height="9.89" fill="#F5D048"/>
<rect x="410.32" y="72.64" width="19.23" height="9.89" fill="#F6CB40"/>
<rect x="428.95" y="72.64" width="19.23" height="9.89" fill="#F5CE44"/>
<rect x="447.57" y="72.64" width="18.62" height="9.89" fill="#F2DE60"/>
<line x1="388.5" y1="77.28" x2="391.7" y2="77.28" stroke="#000" stroke-width="1"/>
<text x="388.09999999999997" y="77.28125" font-size="5.6" text-anchor="end" fill="#111" color="#111" dominant-baseline="central">P94</text>
<rect x="391.70" y="81.92" width="19.23" height="9.89" fill="#F4D54C"/>
<rect x="410.32" y="81.92" width="19.23" height="9.89" fill="#F4D34A"/>
<rect x="428.95" y="81.92" width="19.23" height="9.89" fill="#F4D44B"/>
<rect x="447.57" y="81.92" width="18.62" height="9.89" fill="#F8C232"/>
<line x1="388.5" y1="86.57" x2="391.7" y2="86.57" stroke="#000" stroke-width="1"/>
<text x="388.09999999999997" y="86.56875" font-size="5.6" text-anchor="end" fill="#111" color="#111" dominant-baseline="central">C95</text>
<rect x="391.70" y="91.21" width="19.23" height="9.29" fill="#F4DA4A"/>
<rect x="410.32" y="91.21" width="19.23" height="9.29" fill="#F4DA4A"/>
<rect x="428.95" y="91.21" width="19.23" height="9.29" fill="#F4DA4A"/>
<rect x="447.57" y="91.21" width="18.62" height="9.29" fill="#F4DA4A"/>
<line x1="388.5" y1="95.86" x2="391.7" y2="95.86" stroke="#000" stroke-width="1"/>
<text x="388.09999999999997" y="95.85625" font-size="5.6" text-anchor="end" fill="#111" color="#111" dominant-baseline="central">T96</text>
<rect x="391.7" y="26.2" width="74.5" height="74.3" fill="none" stroke="#111" stroke-width="1"/>
<line x1="401.01" y1="100.5" x2="401.01" y2="103.3" stroke="#000" stroke-width="1"/>
<line x1="419.64" y1="100.5" x2="419.64" y2="103.3" stroke="#000" stroke-width="1"/>
<line x1="438.26" y1="100.5" x2="438.26" y2="103.3" stroke="#000" stroke-width="1"/>
<line x1="456.89" y1="100.5" x2="456.89" y2="103.3" stroke="#000" stroke-width="1"/>
<rect x="391.7" y="109.5" width="74.5" height="75.1" fill="#F4DA4A"/>
<rect x="391.70" y="109.50" width="19.23" height="9.99" fill="#F9BB2A"/>
<rect x="410.32" y="109.50" width="19.23" height="9.99" fill="#F9BA2A"/>
<rect x="428.95" y="109.50" width="19.23" height="9.99" fill="#F9B82A"/>
<rect x="447.57" y="109.50" width="18.62" height="9.99" fill="#F9BD2C"/>
<line x1="388.5" y1="114.19" x2="391.7" y2="114.19" stroke="#000" stroke-width="1"/>
<text x="388.09999999999997" y="114.19375" font-size="5.6" text-anchor="end" fill="#111" color="#111" dominant-baseline="central">H102</text>
<rect x="391.70" y="118.89" width="19.23" height="9.99" fill="#F2EA80"/>
<rect x="410.32" y="118.89" width="19.23" height="9.99" fill="#F5D04A"/>
<rect x="428.95" y="118.89" width="19.23" height="9.99" fill="#F1E46C"/>
<rect x="447.57" y="118.89" width="18.62" height="9.99" fill="#F6D04A"/>
<line x1="388.5" y1="123.58" x2="391.7" y2="123.58" stroke="#000" stroke-width="1"/>
<text x="388.09999999999997" y="123.58125" font-size="5.6" text-anchor="end" fill="#111" color="#111" dominant-baseline="central">R103</text>
<rect x="391.70" y="128.28" width="19.23" height="9.99" fill="#E2533A"/>
<rect x="410.32" y="128.28" width="19.23" height="9.99" fill="#F27B1E"/>
<rect x="428.95" y="128.28" width="19.23" height="9.99" fill="#F89A1A"/>
<rect x="447.57" y="128.28" width="18.62" height="9.99" fill="#E45838"/>
<line x1="388.5" y1="132.97" x2="391.7" y2="132.97" stroke="#000" stroke-width="1"/>
<text x="388.09999999999997" y="132.96875" font-size="5.6" text-anchor="end" fill="#111" color="#111" dominant-baseline="central">Y104</text>
<rect x="391.70" y="137.66" width="19.23" height="9.99" fill="#F9C232"/>
<rect x="410.32" y="137.66" width="19.23" height="9.99" fill="#F9B82A"/>
<rect x="428.95" y="137.66" width="19.23" height="9.99" fill="#F4D250"/>
<rect x="447.57" y="137.66" width="18.62" height="9.99" fill="#F9AE25"/>
<line x1="388.5" y1="142.36" x2="391.7" y2="142.36" stroke="#000" stroke-width="1"/>
<text x="388.09999999999997" y="142.35625" font-size="5.6" text-anchor="end" fill="#111" color="#111" dominant-baseline="central">D105</text>
<rect x="391.70" y="147.05" width="19.23" height="9.99" fill="#F4D64C"/>
<rect x="410.32" y="147.05" width="19.23" height="9.99" fill="#F6CF44"/>
<rect x="428.95" y="147.05" width="19.23" height="9.99" fill="#F3DA54"/>
<rect x="447.57" y="147.05" width="18.62" height="9.99" fill="#F3D84F"/>
<line x1="388.5" y1="151.74" x2="391.7" y2="151.74" stroke="#000" stroke-width="1"/>
<text x="388.09999999999997" y="151.74375" font-size="5.6" text-anchor="end" fill="#111" color="#111" dominant-baseline="central">G106</text>
<rect x="391.70" y="156.44" width="19.23" height="9.99" fill="#F4D64C"/>
<rect x="410.32" y="156.44" width="19.23" height="9.99" fill="#F4D64C"/>
<rect x="428.95" y="156.44" width="19.23" height="9.99" fill="#F3DA54"/>
<rect x="447.57" y="156.44" width="18.62" height="9.99" fill="#F5D046"/>
<line x1="388.5" y1="161.13" x2="391.7" y2="161.13" stroke="#000" stroke-width="1"/>
<text x="388.09999999999997" y="161.13125" font-size="5.6" text-anchor="end" fill="#111" color="#111" dominant-baseline="central">F107</text>
<rect x="391.70" y="165.82" width="19.23" height="9.99" fill="#F6CF44"/>
<rect x="410.32" y="165.82" width="19.23" height="9.99" fill="#F4DA4A"/>
<rect x="428.95" y="165.82" width="19.23" height="9.99" fill="#F4DA4A"/>
<rect x="447.57" y="165.82" width="18.62" height="9.99" fill="#F4DA4A"/>
<line x1="388.5" y1="170.52" x2="391.7" y2="170.52" stroke="#000" stroke-width="1"/>
<text x="388.09999999999997" y="170.51875" font-size="5.6" text-anchor="end" fill="#111" color="#111" dominant-baseline="central">D108</text>
<rect x="391.70" y="175.21" width="19.23" height="9.39" fill="#F4DA4A"/>
<rect x="410.32" y="175.21" width="19.23" height="9.39" fill="#F4DA4A"/>
<rect x="428.95" y="175.21" width="19.23" height="9.39" fill="#F4DA4A"/>
<rect x="447.57" y="175.21" width="18.62" height="9.39" fill="#F4DA4A"/>
<line x1="388.5" y1="179.91" x2="391.7" y2="179.91" stroke="#000" stroke-width="1"/>
<text x="388.09999999999997" y="179.90625" font-size="5.6" text-anchor="end" fill="#111" color="#111" dominant-baseline="central">Y109</text>
<rect x="391.7" y="109.5" width="74.5" height="75.1" fill="none" stroke="#111" stroke-width="1"/>
<line x1="401.01" y1="184.6" x2="401.01" y2="187.4" stroke="#000" stroke-width="1"/>
<line x1="419.64" y1="184.6" x2="419.64" y2="187.4" stroke="#000" stroke-width="1"/>
<line x1="438.26" y1="184.6" x2="438.26" y2="187.4" stroke="#000" stroke-width="1"/>
<line x1="456.89" y1="184.6" x2="456.89" y2="187.4" stroke="#000" stroke-width="1"/>
<text x="403.11" y="193.5" font-size="5.6" text-anchor="end" fill="#111" color="#111" transform="rotate(-45 403.11 193.5)">chitotriose</text>
<text x="421.74" y="193.5" font-size="5.6" text-anchor="end" fill="#111" color="#111" transform="rotate(-45 421.74 193.5)">galactoxylomannan</text>
<text x="440.36" y="193.5" font-size="5.6" text-anchor="end" fill="#111" color="#111" transform="rotate(-45 440.36 193.5)">laminarin</text>
<text x="458.99" y="193.5" font-size="5.6" text-anchor="end" fill="#111" color="#111" transform="rotate(-45 458.99 193.5)">polyglycine</text>
<rect x="468.0" y="26.2" width="12" height="74.7" fill="#D2D2D2"/>
<text x="474.0" y="57.1" font-size="7" text-anchor="middle" fill="#111" color="#111" dominant-baseline="central" transform="rotate(90 474.0 57.1)">Light Chain</text>
<rect x="468.0" y="109.1" width="12" height="77.0" fill="#6E6E6E"/>
<text x="474.0" y="148.8" font-size="7" text-anchor="middle" fill="#fff" color="#fff" dominant-baseline="central" transform="rotate(90 474.0 148.8)">Heavy Chain</text>
</svg>
</body></html>
